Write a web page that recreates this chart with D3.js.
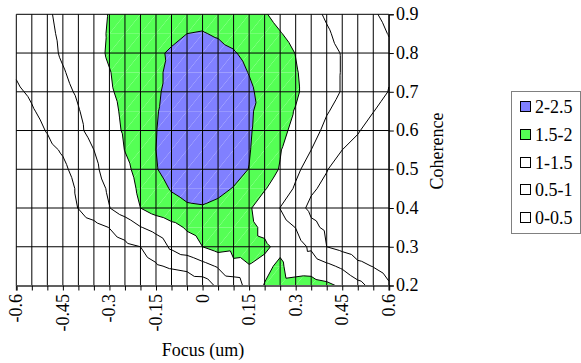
<!DOCTYPE html>
<html><head><meta charset="utf-8">
<script src="https://cdn.jsdelivr.net/npm/d3@7"></script>
<style>
html,body{margin:0;padding:0;background:#fff;}
svg{display:block;}
svg text{font-family:"Liberation Serif","DejaVu Serif",serif;}
</style></head><body>
<svg id="chart" width="581" height="363"></svg>
<script>
// Focus positions (columns of the grid), in um
const focusValues = [-0.6,-0.55,-0.5,-0.45,-0.4,-0.35,-0.3,-0.25,-0.2,-0.15,-0.1,-0.05,0,
                     0.05,0.1,0.15,0.2,0.25,0.3,0.35,0.4,0.45,0.5,0.55,0.6];
const focusTicks = [-0.6,-0.45,-0.3,-0.15,0,0.15,0.3,0.45,0.6];
const focusTickLabels = ["-0.6","-0.45","-0.3","-0.15","0","0.15","0.3","0.45","0.6"];

// Coherence rows, top to bottom
const coherenceValues = [0.9,0.85,0.8,0.75,0.7,0.65,0.6,0.55,0.5,0.45,0.4,0.35,0.3,0.25,0.2];
const coherenceTicks = [0.9,0.8,0.7,0.6,0.5,0.4,0.3,0.2];
const coherenceTickLabels = ["0.9","0.8","0.7","0.6","0.5","0.4","0.3","0.2"];

// Measured surface, one row per coherence value (same order as coherenceValues)
const row090 = [0.75,0.85,0.95,1.10,1.22,1.35,1.52,1.65,1.75,1.82,1.88,1.93,1.94,1.90,1.80,1.65,1.53,1.38,1.23,1.12,0.95,0.80,0.66,0.53,0.43];
const row085 = [0.68,0.80,0.92,1.07,1.22,1.36,1.54,1.70,1.80,1.88,1.94,2.00,2.01,1.98,1.92,1.80,1.66,1.52,1.38,1.22,1.05,0.88,0.74,0.60,0.49];
const row080 = [0.60,0.75,0.88,1.05,1.20,1.35,1.56,1.75,1.88,1.96,2.03,2.07,2.08,2.06,2.02,1.93,1.80,1.65,1.49,1.30,1.12,0.98,0.85,0.70,0.55];
const row075 = [0.53,0.65,0.82,0.97,1.13,1.30,1.48,1.68,1.84,1.95,2.06,2.14,2.17,2.15,2.10,1.99,1.86,1.72,1.53,1.35,1.14,0.98,0.84,0.68,0.53];
const row070 = [0.45,0.55,0.70,0.90,1.05,1.25,1.45,1.62,1.80,1.95,2.10,2.20,2.25,2.22,2.15,2.05,1.90,1.70,1.55,1.35,1.12,0.98,0.80,0.65,0.49];
const row065 = [0.35,0.47,0.60,0.80,0.98,1.17,1.38,1.58,1.80,1.97,2.15,2.25,2.30,2.28,2.20,2.08,1.80,1.62,1.48,1.25,1.03,0.86,0.67,0.51,0.35];
const row060 = [0.25,0.38,0.52,0.72,0.92,1.15,1.35,1.55,1.80,1.99,2.15,2.25,2.30,2.28,2.20,2.06,1.75,1.60,1.40,1.15,0.90,0.72,0.53,0.35,0.20];
const row055 = [0.18,0.28,0.40,0.54,0.75,1.00,1.25,1.51,1.72,2.00,2.16,2.26,2.30,2.28,2.20,2.03,1.72,1.52,1.28,1.00,0.72,0.50,0.38,0.25,0.15];
const row050 = [0.10,0.20,0.30,0.42,0.65,0.90,1.20,1.40,1.65,1.98,2.15,2.25,2.28,2.25,2.15,1.99,1.66,1.48,1.10,0.80,0.52,0.30,0.22,0.15,0.10];
const row045 = [0.06,0.12,0.20,0.30,0.56,0.80,1.06,1.30,1.58,1.85,2.03,2.12,2.15,2.10,1.98,1.80,1.53,1.28,0.94,0.56,0.40,0.28,0.20,0.12,0.08];
const row040 = [0.05,0.10,0.18,0.30,0.51,0.75,0.99,1.25,1.50,1.72,1.85,1.95,1.97,1.90,1.75,1.55,1.26,0.99,0.68,0.40,0.30,0.22,0.15,0.10,0.05];
const row035 = [0.03,0.06,0.10,0.16,0.25,0.36,0.51,0.70,0.98,1.15,1.35,1.55,1.65,1.70,1.68,1.60,1.42,1.20,0.99,0.60,0.42,0.30,0.20,0.12,0.06];
const row030 = [0.02,0.04,0.06,0.10,0.15,0.22,0.30,0.40,0.50,0.72,1.08,1.30,1.50,1.69,1.62,1.60,1.56,1.40,1.20,0.92,0.50,0.36,0.22,0.14,0.08];
const row025 = [0.01,0.02,0.03,0.05,0.08,0.11,0.15,0.22,0.32,0.45,0.56,0.62,0.84,1.05,1.42,1.49,1.40,1.58,1.25,1.30,1.10,0.92,0.62,0.48,0.30];
const row020 = [0.00,0.00,0.00,0.00,0.01,0.02,0.03,0.05,0.07,0.10,0.14,0.20,0.22,0.60,0.66,1.25,1.52,1.65,1.70,1.68,1.60,1.42,1.15,0.85,0.56];
const surfaceRows = [row090,row085,row080,row075,row070,row065,row060,row055,row050,row045,row040,row035,row030,row025,row020];

// Contour bands (legend order) and their fills
const bandLabels = ["2-2.5","1.5-2","1-1.5","0.5-1","0-0.5"];
const bandLows   = [2, 1.5, 1, 0.5, 0];
const bandHighs  = [2.5, 2, 1.5, 1, 0.5];
const bandColors = ["#8080ff","#55ff55","#ffffff","#ffffff","#ffffff"];
const contourLevels = [0.5, 1, 1.5, 2];

const FONT = "'Liberation Serif', 'DejaVu Serif', serif";
const svg = d3.select("#chart");
const x = d3.scaleLinear().domain([-0.6, 0.6]).range([16.3, 388.8]);
const y = d3.scaleLinear().domain([0.2, 0.9]).range([285.5, 14.3]);

// Each grid cell is split into two triangles along its "/" diagonal
const triangles = [];
for (let j = 0; j < coherenceValues.length - 1; j++) {
  for (let i = 0; i < focusValues.length - 1; i++) {
    const P = (ii, jj) => ({fx: focusValues[ii], cy: coherenceValues[jj], z: surfaceRows[jj][ii]});
    triangles.push([P(i, j), P(i + 1, j), P(i, j + 1)]);
    triangles.push([P(i + 1, j), P(i + 1, j + 1), P(i, j + 1)]);
  }
}

function clipPoly(pts, t, keepAbove) {
  const out = [];
  for (let k = 0; k < pts.length; k++) {
    const a = pts[k], b = pts[(k + 1) % pts.length];
    const ina = keepAbove ? a.z >= t : a.z <= t;
    const inb = keepAbove ? b.z >= t : b.z <= t;
    if (ina) out.push(a);
    if (ina !== inb) {
      const f = (t - a.z) / (b.z - a.z);
      out.push({fx: a.fx + f * (b.fx - a.fx), cy: a.cy + f * (b.cy - a.cy), z: t});
    }
  }
  return out;
}

const fillLayer = svg.append("g");
bandLows.forEach((lo, bi) => {
  if (bandColors[bi] === "#ffffff") return;
  const hi = bandHighs[bi];
  triangles.forEach(tri => {
    let poly = clipPoly(tri, lo, true);
    if (poly.length >= 3) poly = clipPoly(poly, hi, false);
    if (poly.length >= 3) {
      fillLayer.append("path")
        .attr("d", "M" + poly.map(p => x(p.fx) + "," + y(p.cy)).join("L") + "Z")
        .attr("fill", bandColors[bi]);
    }
  });
});

// Grid
const grid = svg.append("g").attr("stroke", "#000").attr("stroke-width", 1);
focusValues.forEach(v => grid.append("line")
  .attr("x1", x(v)).attr("x2", x(v)).attr("y1", y(0.9)).attr("y2", y(0.2)));
coherenceTicks.forEach(v => grid.append("line")
  .attr("x1", x(-0.6)).attr("x2", x(0.6)).attr("y1", y(v)).attr("y2", y(v)));

// Contour lines
let lineD = "";
triangles.forEach(tri => {
  contourLevels.forEach(t => {
    const pts = [];
    for (let k = 0; k < 3; k++) {
      const a = tri[k], b = tri[(k + 1) % 3];
      if ((a.z > t) !== (b.z > t)) {
        const f = (t - a.z) / (b.z - a.z);
        pts.push([x(a.fx + f * (b.fx - a.fx)), y(a.cy + f * (b.cy - a.cy))]);
      }
    }
    if (pts.length === 2) lineD += "M" + pts[0].join(",") + "L" + pts[1].join(",");
  });
});
svg.append("path").attr("d", lineD).attr("fill", "none").attr("stroke", "#000").attr("stroke-width", 1);

// Bottom axis
const xAxis = d3.axisBottom(x).tickValues(focusValues).tickSize(5).tickFormat("");
const gx = svg.append("g").attr("transform", `translate(0,${y(0.2)})`).call(xAxis);
gx.select(".domain").attr("stroke", "#606060").attr("stroke-width", 2);
gx.selectAll(".tick line").attr("stroke", "#000");
focusTicks.forEach((v, k) => {
  svg.append("text")
    .attr("transform", `translate(${x(v)},294) rotate(-90)`)
    .attr("text-anchor", "end").attr("dy", "0.33em")
    .attr("font-family", FONT).attr("font-size", 18).text(focusTickLabels[k]);
});

// Right axis
const yAxis = d3.axisRight(y).tickValues(coherenceTicks).tickSize(5).tickFormat("");
const gy = svg.append("g").attr("transform", `translate(${x(0.6)},0)`).call(yAxis);
gy.select(".domain").attr("stroke", "#000");
gy.selectAll(".tick line").attr("stroke", "#000");
coherenceTicks.forEach((v, k) => {
  svg.append("text").attr("x", 396).attr("y", y(v)).attr("dy", "0.33em")
    .attr("font-family", FONT).attr("font-size", 18).text(coherenceTickLabels[k]);
});

// Axis titles
svg.append("text").attr("x", 203).attr("y", 356).attr("text-anchor", "middle")
  .attr("font-family", FONT).attr("font-size", 18).text("Focus (um)");
svg.append("text").attr("transform", "translate(437,151) rotate(-90)")
  .attr("text-anchor", "middle").attr("dy", "0.33em")
  .attr("font-family", FONT).attr("font-size", 18).text("Coherence");

// Legend
const legend = svg.append("g");
legend.append("rect").attr("x", 511.5).attr("y", 91.5).attr("width", 69).attr("height", 142)
  .attr("fill", "#fff").attr("stroke", "#808080");
bandLabels.forEach((lab, k) => {
  const cy = 107 + k * 27.8;
  legend.append("rect").attr("x", 520.5).attr("y", Math.round(cy) - 5.5).attr("width", 10).attr("height", 10)
    .attr("fill", bandColors[k]).attr("stroke", "#000");
  legend.append("text").attr("x", 535).attr("y", cy).attr("dy", "0.33em")
    .attr("font-family", FONT).attr("font-size", 18).text(lab);
});
</script>
</body></html>
